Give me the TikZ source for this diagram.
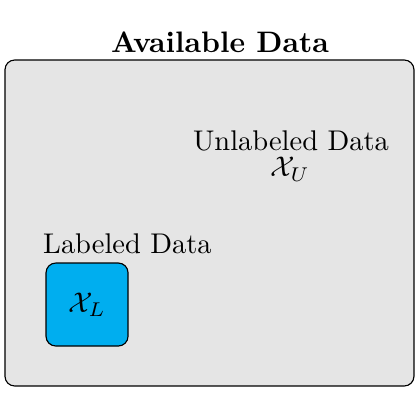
\documentclass[tikz,border=0pt]{standalone}
\usepackage{amsmath,amssymb}
\usepackage{tikz}
\usetikzlibrary{positioning}

\definecolor{labelblue}{RGB}{0,174,239}

\begin{document}
\begin{tikzpicture}[
		every node/.style={font=\normalsize, inner sep=1pt},
		% Outer data pool
		pool/.style={draw, rounded corners=0.12cm, fill=black!10,
			minimum width=5.047cm, minimum height=4.023cm, inner sep=0pt},
		% Labeled subset
		subset/.style={draw, rounded corners=0.12cm, fill=labelblue,
			minimum width=1.012cm, minimum height=1.024cm, inner sep=0pt}
		]
		
		\useasboundingbox (0,0) rectangle (5.183,5.183);
		
		% === NODES ===
		
		% Available data box
		\node[pool] (available) at (2.585, 2.431) {};
		\node[anchor=base, font=\fontsize{10.4}{12}\selectfont\bfseries] (title) at (2.715, 4.529) {Available Data};
		
		% Unlabeled part
		\node[anchor=base] (unlabeled) at (3.591, 3.323) {Unlabeled Data};
		\node[anchor=base] (xu) at (3.579, 2.999) {$\mathcal{X}_U$};
		
		% Labeled part
		\node[anchor=base] (labeled) at (1.573, 2.057) {Labeled Data};
		\node[subset] (xl) at (1.074, 1.425) {$\mathcal{X}_L$};
		
	\end{tikzpicture}
\end{document}
